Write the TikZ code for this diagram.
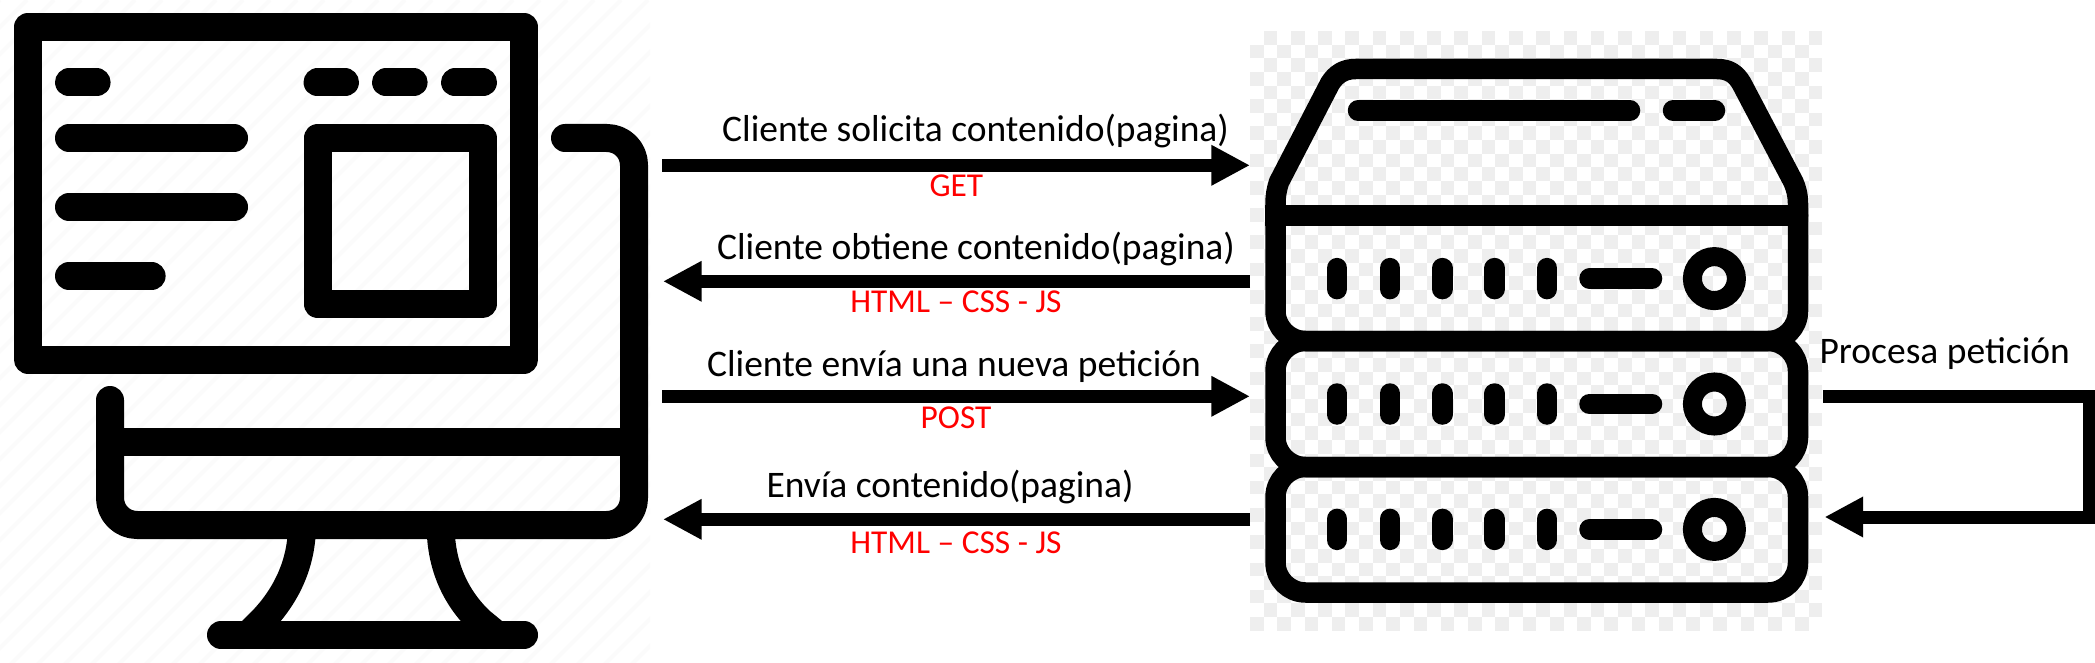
\documentclass[tikz,border=0pt]{standalone}
\usepackage{fontspec}
\setmainfont{Carlito}
\usetikzlibrary{arrows.meta}
\definecolor{checkgray}{HTML}{EEEEEE}
\definecolor{hatchgray}{HTML}{FBFBFB}
\tikzset{
  ink/.style={draw=black,line width=28pt,line join=round,line cap=round},
  srv/.style={draw=black,line width=20.5pt,line join=round,line cap=round},
  flow/.style={draw=black,line width=13pt,-{Triangle[length=38.7pt,width=38pt]}},
  msg/.style={anchor=base,inner sep=0pt,font=\fontsize{37.5}{40}\selectfont,text=black},
  proto/.style={anchor=base,inner sep=0pt,font=\fontsize{33.4}{36}\selectfont,text=red},
}
\begin{document}
\begin{tikzpicture}[x=1pt,y=-1pt]
\useasboundingbox (0,0) rectangle (2095,663);
% faint hatching behind the client
\begin{scope}
  \clip (0,0) rectangle (650,663);
  \foreach \k in {0,...,50}
    \draw[hatchgray,line width=4pt] (\k*27,0) -- ++(-680,680);
\end{scope}
% checkerboard behind the server
\foreach \r in {0,...,43}
  \foreach \c in {0,...,41}{
    \pgfmathtruncatemacro{\odd}{mod(\r+\c,2)}
    \ifnum\odd=1
      \fill[checkgray] (1250+\c*13.63,31+\r*13.63) rectangle ++(13.63,13.63);
    \fi
  }
% client icon
\draw[ink,line cap=butt] (28,27) rectangle (524,359.5);
\foreach \a/\b/\y in {69/96.6/82.5,317.5/345/82.5,386/413.6/82.5,455/483/82.5,69/234/138,69/234/207,69/151.6/276}
  \draw[ink] (\a,\y) -- (\b,\y);
\draw[ink,line cap=butt] (317.5,138) rectangle (482.5,304);
\draw[ink] (565,138) [rounded corners=27pt] -- (634,138) -- (634,525) -- (110,525) [sharp corners] -- (110,400);
\draw[ink,line cap=butt] (110,442) -- (634,442);
\draw[ink] (221,635) -- (524,635);
\draw[ink,line cap=butt] (302,525) .. controls (302,565) and (285,597) .. (262,621) -- (248,635);
\draw[ink,line cap=butt] (440.6,525) .. controls (440.6,565) and (455,597) .. (480,621) -- (497,635);
% server icon
\draw[srv] (1275.5,215.5) -- (1275.5,204)
  .. controls (1275.5,195) and (1277,188) .. (1279,182)
  -- (1330,83.5) .. controls (1336,74) and (1344,69) .. (1355.6,69)
  -- (1717,69) .. controls (1729,69) and (1736,74) .. (1741.6,83.5)
  -- (1793.4,182) .. controls (1796,188) and (1798,195) .. (1798,204)
  -- (1798,215.5);
\draw[srv,line cap=butt] (1265,215.5) -- (1808,215.5);
\draw[srv] (1275.5,215.5) [rounded corners=30pt] -- (1275.5,341) -- (1798,341) [sharp corners] -- (1798,215.5);
\draw[srv,rounded corners=30pt] (1275.5,341) rectangle (1798,467);
\draw[srv,rounded corners=30pt] (1275.5,467) rectangle (1798,592.5);
\draw[srv] (1358,110.6) -- (1630,110.6);
\draw[srv] (1673,110.6) -- (1715,110.6);
\foreach \y in {278.6,404,529.4}{
  \foreach \x in {1337,1390,1442.3,1494.6,1547}
    \draw[srv] (\x,\y-10.5) -- (\x,\y+10.5);
  \draw[srv] (1589.5,\y) -- (1652,\y);
  \draw[draw=black,line width=19pt] (1714.4,\y) circle[radius=22pt];
}
% endpoints
\coordinate (c1) at (662,165.3);  \coordinate (s1) at (1250,165.3);
\coordinate (c2) at (663,281.3);  \coordinate (s2) at (1250,281.3);
\coordinate (c3) at (662,396.3);  \coordinate (s3) at (1250,396.3);
\coordinate (c4) at (663,519.3);  \coordinate (s4) at (1250,519.3);
\coordinate (lo) at (1823.4,396.2); \coordinate (lc) at (2089,396.2);
\coordinate (ld) at (2089,517);     \coordinate (li) at (1824.5,517);
% connectors
\draw[flow] (c1) -- (s1);
\draw[flow] (s2) -- (c2);
\draw[flow] (c3) -- (s3);
\draw[flow] (s4) -- (c4);
\draw[flow,line join=miter] (lo) -- (lc) -- (ld) -- (li);
% labels
\node[msg] (m1) at (975.6,141.7) {Cliente solicita contenido(pagina)};
\node[msg] (m2) at (976,259.3) {Cliente obtiene contenido(pagina)};
\node[msg] (m3) at (954,376.7) {Cliente envía una nueva petición};
\node[msg] (m4) at (950,497.7) {Envía contenido(pagina)};
\node[msg] (m5) at (1944.7,363.4) {Procesa petición};
\node[proto] (p1) at (956.4,196.7) {GET};
\node[proto] (p2) at (956,312.7) {HTML – CSS - JS};
\node[proto] (p3) at (956,428.3) {POST};
\node[proto] (p4) at (956,553.3) {HTML – CSS - JS};
\end{tikzpicture}
\end{document}
